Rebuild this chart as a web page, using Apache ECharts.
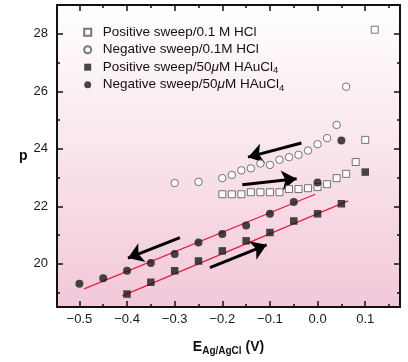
<!DOCTYPE html>
<html>
<head>
<meta charset="utf-8">
<script src="https://cdn.jsdelivr.net/npm/echarts@6/dist/echarts.min.js"></script>
<style>html,body{margin:0;padding:0;background:#fff;}#c{width:408px;height:362px;}</style>
</head>
<body>
<div id="c"></div>
<script>
// ---- data ----
const xTicks = [-0.5, -0.4, -0.3, -0.2, -0.1, 0, 0.1];
const xMinor = [-0.45, -0.35, -0.25, -0.15, -0.05, 0.05, 0.15];
const yTicks = [20, 22, 24, 26, 28];
const yMinor = [19, 21, 23, 25, 27];

const names = ['Positive sweep/0.1 M HCl', 'Negative sweep/0.1M HCl', 'Positive sweep/50μM HAuCl4', 'Negative sweep/50μM HAuCl4'];

const hclPosX = [-0.2, -0.18, -0.16, -0.14, -0.12, -0.1, -0.08, -0.06, -0.04, -0.02, 0, 0.02, 0.04, 0.06, 0.08, 0.1, 0.12];
const hclPosP = [22.42, 22.42, 22.42, 22.49, 22.49, 22.49, 22.49, 22.6, 22.6, 22.63, 22.67, 22.77, 22.98, 23.13, 23.54, 24.31, 28.14];
const hclNegX = [-0.3, -0.25, -0.2, -0.18, -0.16, -0.14, -0.12, -0.1, -0.08, -0.06, -0.04, -0.02, 0, 0.02, 0.04, 0.06];
const hclNegP = [22.81, 22.85, 22.98, 23.09, 23.25, 23.32, 23.49, 23.44, 23.62, 23.71, 23.79, 23.94, 24.16, 24.37, 24.83, 26.16];
const auPosX = [-0.4, -0.35, -0.3, -0.25, -0.2, -0.15, -0.1, -0.05, 0, 0.05, 0.1];
const auPosP = [18.95, 19.36, 19.76, 20.10, 20.45, 20.8, 21.09, 21.49, 21.74, 22.09, 23.19];
const auNegX = [-0.5, -0.45, -0.4, -0.35, -0.3, -0.25, -0.2, -0.15, -0.1, -0.05, 0, 0.05];
const auNegP = [19.31, 19.5, 19.76, 20.03, 20.34, 20.74, 21.04, 21.33, 21.74, 22.15, 22.83, 24.29];

const fitNeg = [[-0.49, 19.13], [-0.005, 22.42]];
const fitPos = [[-0.41, 18.89], [0.064, 22.19]];

const arrows = [
  [[-0.034, 24.20], [-0.146, 23.71]],
  [[-0.158, 22.75], [-0.044, 22.96]],
  [[-0.289, 20.91], [-0.398, 20.20]],
  [[-0.226, 19.87], [-0.107, 20.66]]
];

// ---- chart ----
const zip = (xs, ys) => xs.map((x, i) => [x, ys[i]]);
const chart = echarts.init(document.getElementById('c'));
const FONT = '"Liberation Sans", Arial, Helvetica, sans-serif';
const fmtX = v => (v < -1e-9 ? '\u2212' : '') + Math.abs(v).toFixed(1);

function xAxisDef(pos, major) {
  return {
    type: 'value', position: pos, min: -0.547, max: 0.173,
    axisLine: { show: major, onZero: false, lineStyle: { color: '#111', width: 2 } },
    axisTick: { show: true, inside: true, length: major ? 6 : 3, customValues: major ? xTicks : xMinor, lineStyle: { color: '#111', width: 1.5 } },
    axisLabel: { show: major && pos === 'bottom', customValues: xTicks, formatter: fmtX, margin: 6, color: '#1a1a1a', fontSize: 13, fontFamily: FONT },
    splitLine: { show: false },
    name: major && pos === 'bottom' ? '{e|E}{s|Ag/AgCl}{e| (V)}' : '',
    nameLocation: 'middle', nameGap: 31,
    nameTextStyle: {
      rich: {
        e: { fontSize: 14, fontWeight: 'bold', fontFamily: FONT, color: '#111', lineHeight: 18 },
        s: { fontSize: 10, fontWeight: 'bold', fontFamily: FONT, color: '#111', lineHeight: 10, padding: [9, 0, 0, 0] }
      }
    }
  };
}
function yAxisDef(pos, major) {
  return {
    type: 'value', position: pos, min: 18.5, max: 29,
    axisLine: { show: major, onZero: false, lineStyle: { color: '#111', width: 2 } },
    axisTick: { show: true, inside: true, length: major ? 6 : 3, customValues: major ? yTicks : yMinor, lineStyle: { color: '#111', width: 1.5 } },
    axisLabel: { show: major && pos === 'left', customValues: yTicks, margin: 9, color: '#1a1a1a', fontSize: 13, fontFamily: FONT },
    splitLine: { show: false },
    name: major && pos === 'left' ? 'p' : '',
    nameLocation: 'middle', nameRotate: 0, nameGap: 23,
    nameTextStyle: { fontSize: 14, fontWeight: 'bold', fontFamily: FONT, color: '#111' }
  };
}

const rich = {
  g: { width: 6.5, fontSize: 13.5, lineHeight: 16 },
  t: { fontSize: 13.5, fontFamily: FONT, color: '#111', lineHeight: 16 },
  mu: { fontSize: 13.5, fontFamily: FONT, fontStyle: 'italic', color: '#111', lineHeight: 16 },
  sub: { fontSize: 9.5, fontFamily: FONT, color: '#111', lineHeight: 9, padding: [7, 0, 0, 0] }
};
function legendFmt(name) {
  if (name.indexOf('μM HAuCl4') >= 0) {
    const pre = name.split('μ')[0];
    return '{g| }{t|' + pre + '}{mu|μ}{t|M HAuCl}{sub|4}';
  }
  return '{g| }{t|' + name + '}{sub| }';
}

const openStyle = { color: '#ffffff', borderColor: '#555', borderWidth: 1 };
const fillStyle = { color: '#1a1a1a' };

chart.setOption({
  animation: false,
  grid: {
    left: 57, right: 8, top: 5, bottom: 55, show: true, borderWidth: 0,
    backgroundColor: new echarts.graphic.LinearGradient(0, 0, 0, 1, [
      { offset: 0, color: '#ffffff' }, { offset: 1, color: '#f2c8d9' }
    ])
  },
  legend: {
    data: names, orient: 'vertical', left: 78.2, top: 18.7, itemGap: 0.5, padding: 5,
    itemWidth: 7, itemHeight: 7,
    formatter: legendFmt,
    textStyle: { rich: rich, fontSize: 13.5, lineHeight: 16, fontFamily: FONT, color: '#111' }
  },
  xAxis: [xAxisDef('bottom', true), xAxisDef('bottom', false), xAxisDef('top', true), xAxisDef('top', false)],
  yAxis: [yAxisDef('left', true), yAxisDef('left', false), yAxisDef('right', true), yAxisDef('right', false)],
  series: [
    { type: 'line', name: 'fitNeg', data: fitNeg, showSymbol: false, symbol: 'none', lineStyle: { color: '#e3203a', width: 1.3 }, silent: true, z: 1 },
    { type: 'line', name: 'fitPos', data: fitPos, showSymbol: false, symbol: 'none', lineStyle: { color: '#e3203a', width: 1.3 }, silent: true, z: 1 },
    {
      type: 'lines', coordinateSystem: 'cartesian2d', name: 'arrows', silent: true, z: 3,
      symbol: ['none', 'arrow'], symbolSize: [11, 15], symbolOffset: [0, 7.5],
      lineStyle: { color: '#000', width: 3, opacity: 1 },
      itemStyle: { color: '#000' },
      data: arrows.map(a => ({ coords: a }))
    },
    { type: 'scatter', name: names[0], data: zip(hclPosX, hclPosP), symbol: 'rect', symbolSize: 7, itemStyle: openStyle, z: 4 },
    { type: 'scatter', name: names[1], data: zip(hclNegX, hclNegP), symbol: 'circle', symbolSize: 7.5, itemStyle: openStyle, z: 4 },
    { type: 'scatter', name: names[2], data: zip(auPosX, auPosP), symbol: 'rect', symbolSize: 7.5, itemStyle: fillStyle, z: 4 },
    { type: 'scatter', name: names[3], data: zip(auNegX, auNegP), symbol: 'circle', symbolSize: 8, itemStyle: fillStyle, z: 4 }
  ]
});
</script>
</body>
</html>
